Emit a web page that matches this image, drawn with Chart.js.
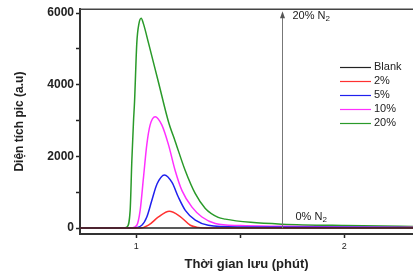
<!DOCTYPE html>
<html><head><meta charset="utf-8">
<script src="https://cdn.jsdelivr.net/npm/chart.js@4.4.0/dist/chart.umd.min.js"></script>
<style>html,body{margin:0;padding:0;background:#fff;overflow:hidden}#wrap{width:413px;height:275px}</style>
</head><body><div id="wrap"><canvas id="c" width="413" height="275"></canvas></div>
<script>
const seriesLabels = ['Blank', '2%', '5%', '10%', '20%'];
const seriesColors = ['#222222', '#ff3030', '#2020ee', '#ff30ff', '#2a9a2a'];

const blankX = [0.73, 2.4];
const blankY = [0, 0];

const redX = [0.73, 1.02, 1.059, 1.107, 1.159, 1.21, 1.26, 1.298, 1.34, 2.4];
const redY = [0, 0, 80, 310, 470, 330, 80, 20, 0, 0];

const blueX = [0.73, 0.98, 1.027, 1.051, 1.075, 1.10, 1.136, 1.172, 1.203, 1.236, 1.284, 1.346, 1.5, 2.0, 2.4];
const blueY = [0, 0, 80, 310, 770, 1230, 1485, 1275, 860, 495, 220, 80, 30, 20, 10];

const magX = [0.73, 0.96, 0.98, 1.003, 1.019, 1.035, 1.051, 1.067, 1.091, 1.123, 1.155, 1.1875, 1.22, 1.268, 1.316, 1.38, 1.5, 1.7, 2.0, 2.4];
const magY = [0, 0, 10, 80, 495, 1410, 2330, 2880, 3110, 2880, 2330, 1600, 1045, 585, 310, 130, 70, 50, 30, 20];

const greenX = [0.73, 0.94, 0.955, 0.971, 0.979, 0.987, 0.992, 1.003, 1.013, 1.024, 1.035, 1.059, 1.107, 1.155, 1.1875, 1.236, 1.284, 1.332, 1.394, 1.428, 1.55, 1.70, 2.0, 2.4];
const greenY = [0, 0, 27, 495, 1870, 2970, 3520, 5170, 5700, 5860, 5700, 5170, 4070, 2970, 2420, 1600, 960, 550, 300, 250, 160, 110, 70, 40];

const yTicks = [0, 1000, 2000, 3000, 4000, 5000, 6000];
const yLabeled = [0, 2000, 4000, 6000];
const xTicks = [1, 1.5, 2];
const xLabeled = [1, 2];

const arrowX = 1.70;
const arrowTop = 6000;
const arrowLabelTop = '20% N';
const arrowLabelBottom = '0% N';

const xs = [blankX, redX, blueX, magX, greenX];
const ys = [blankY, redY, blueY, magY, greenY];

const datasets = seriesLabels.map((lab, i) => ({
  label: lab,
  data: xs[i].map((x, j) => ({x: x, y: ys[i][j]})),
  borderColor: seriesColors[i],
  borderWidth: 1.5,
  pointRadius: 0,
  fill: false,
  cubicInterpolationMode: 'monotone'
}));

const extras = {
  id: 'extras',
  afterDraw(chart) {
    const ctx = chart.ctx;
    const a = chart.chartArea;
    const xs_ = chart.scales.x, ys_ = chart.scales.y;
    ctx.save();
    ctx.strokeStyle = '#444';
    ctx.lineWidth = 1.5;
    ctx.beginPath(); ctx.moveTo(a.left, a.top); ctx.lineTo(a.right, a.top); ctx.stroke();
    const ax = Math.round(xs_.getPixelForValue(arrowX)) + 0.5;
    const y0 = ys_.getPixelForValue(0);
    const y1 = ys_.getPixelForValue(arrowTop);
    ctx.strokeStyle = '#777'; ctx.fillStyle = '#555'; ctx.lineWidth = 1;
    ctx.beginPath(); ctx.moveTo(ax, y0); ctx.lineTo(ax, y1 + 2); ctx.stroke();
    ctx.beginPath(); ctx.moveTo(ax, y1 - 2); ctx.lineTo(ax - 2.5, y1 + 5); ctx.lineTo(ax + 2.5, y1 + 5); ctx.closePath(); ctx.fill();
    ctx.fillStyle = '#222';
    ctx.textBaseline = 'middle';
    const lbl = (txt, x, y) => {
      ctx.font = '11px "Liberation Sans", Arial, sans-serif';
      ctx.textAlign = 'left';
      ctx.fillText(txt, x, y);
      const w = ctx.measureText(txt).width;
      ctx.font = '8px "Liberation Sans", Arial, sans-serif';
      ctx.fillText('2', x + w, y + 3);
    };
    lbl(arrowLabelTop, ax + 10, 16);
    lbl(arrowLabelBottom, ax + 13, 217);
    const lx = 340, ly = 67, step = 14;
    chart.data.datasets.forEach((d, i) => {
      const yy = ly + i * step;
      ctx.strokeStyle = d.borderColor; ctx.lineWidth = 1.2;
      ctx.beginPath(); ctx.moveTo(lx, yy + 0.5); ctx.lineTo(lx + 31, yy + 0.5); ctx.stroke();
      ctx.fillStyle = '#222';
      ctx.font = '11px "Liberation Sans", Arial, sans-serif';
      ctx.textAlign = 'left';
      ctx.fillText(d.label, lx + 34, yy);
    });
    ctx.restore();
  }
};

new Chart(document.getElementById('c'), {
  type: 'line',
  data: { datasets: datasets },
  options: {
    responsive: false,
    animation: false,
    events: [],
    layout: { padding: { top: 6, right: 0, left: 0, bottom: 0 } },
    plugins: { legend: { display: false }, tooltip: { enabled: false } },
    scales: {
      x: {
        type: 'linear', min: 0.73, max: 2.33,
        afterBuildTicks: s => { s.ticks = xTicks.map(v => ({value: v})); },
        afterFit: s => { s.height = 41; },
        ticks: {
          autoSkip: false, maxRotation: 0, padding: 3,
          color: '#222',
          font: { size: 9, family: '"Liberation Sans", Arial, sans-serif' },
          callback: v => xLabeled.includes(v) ? String(v) : ''
        },
        grid: { drawOnChartArea: false, tickLength: 4, color: '#222', tickColor: '#222', tickWidth: 1.5 },
        border: { color: '#333', width: 2 },
        title: {
          display: true, text: 'Thời gian lưu (phút)', color: '#222',
          font: { size: 13, weight: 'bold', family: '"Liberation Sans", Arial, sans-serif' },
          padding: { top: 0, bottom: 3 }
        }
      },
      y: {
        type: 'linear', min: -165, max: 6110,
        afterBuildTicks: s => { s.ticks = yTicks.map(v => ({value: v})); },
        afterFit: s => { s.width = 80; },
        ticks: {
          autoSkip: false, padding: 2, color: '#222',
          font: { size: 12, weight: 'bold', family: '"Liberation Sans", Arial, sans-serif' },
          callback: v => yLabeled.includes(v) ? String(v) : ''
        },
        grid: { drawOnChartArea: false, tickLength: 4, color: '#222', tickColor: '#222', tickWidth: 1.5 },
        border: { color: '#333', width: 2 },
        title: {
          display: true, text: 'Diện tích pic (a.u)', color: '#222',
          font: { size: 12, weight: 'bold', family: '"Liberation Sans", Arial, sans-serif' },
          padding: { top: 12, bottom: 0 }
        }
      }
    }
  },
  plugins: [extras]
});
</script></body></html>
